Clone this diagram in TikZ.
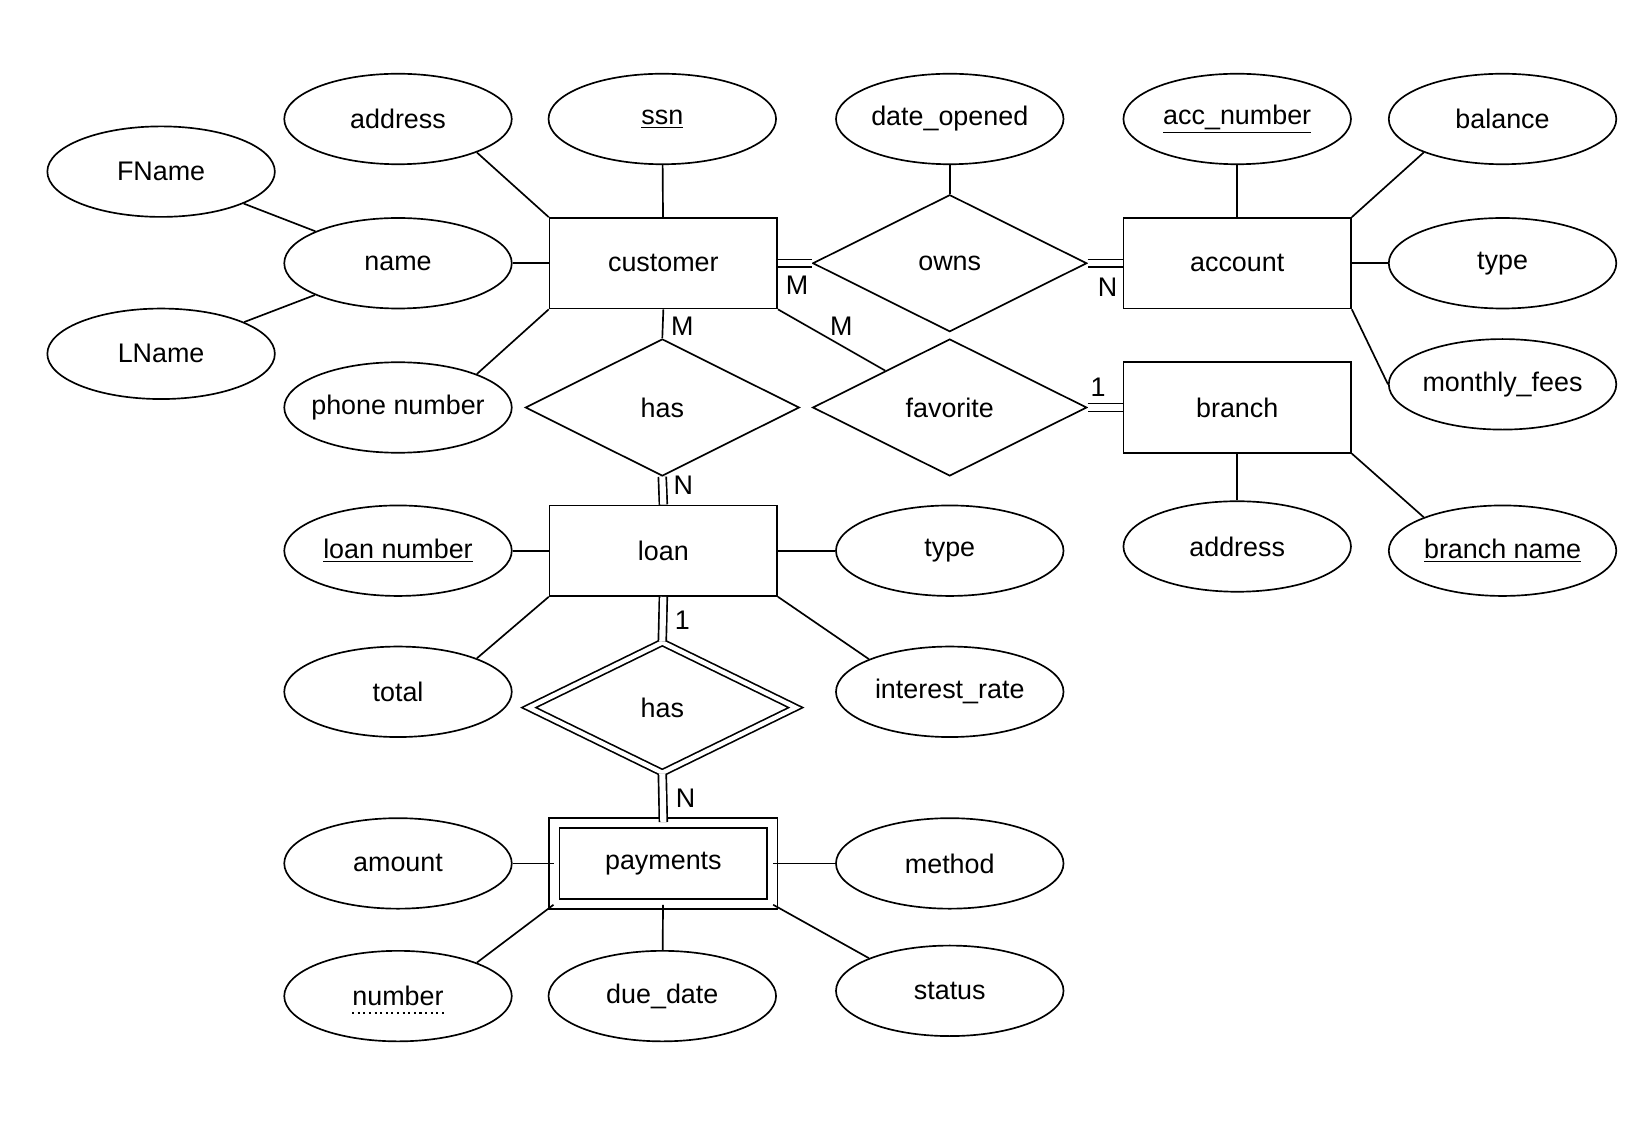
\documentclass[tikz,border=0pt]{standalone}
\usepackage{fontspec}
\setmainfont{Liberation Sans}
\usetikzlibrary{shapes.geometric}
\begin{document}
\begin{tikzpicture}[x=0.02106cm,y=-0.02106cm,line width=0.95pt,
  font=\fontsize{15.3}{18}\selectfont,
  attr/.style={draw,ellipse,minimum width=4.55cm,minimum height=1.81cm,inner sep=0},
  ent/.style={draw,rectangle,minimum width=4.55cm,minimum height=1.81cm,inner sep=0},
  rel/.style={draw,diamond,minimum width=5.48cm,minimum height=2.74cm,inner sep=0},
  dbl/.style={double,double distance=3.5pt},
  lab/.style={inner sep=1pt}]
\useasboundingbox (0,0) rectangle (1568,1089);
\node[attr] (addr) at (378,113) {address};
\node[attr] (ssn) at (629,113) {\underline{ssn}};
\node[attr] (dop) at (902,113) {date\_opened};
\node[attr] (accn) at (1175,113) {\underline{acc\_number}};
\node[attr] (bal) at (1427,113) {balance};
\node[attr] (fn) at (153,163) {FName};
\node[attr] (name) at (378,250) {name};
\node[attr] (ln) at (153,336) {LName};
\node[ent] (cust) at (630,250) {customer};
\node[rel] (owns) at (902,250) {owns};
\node[ent] (acct) at (1175,250) {account};
\node[attr] (atype) at (1427,250) {type};
\node[attr] (mf) at (1427,365) {monthly\_fees};
\node[attr,inner xsep=-6pt] (phone) at (378,387) {phone number};
\node[rel] (has1) at (629,387) {has};
\node[rel] (fav) at (902,387) {favorite};
\node[ent] (br) at (1175,387) {branch};
\node[attr] (baddr) at (1175,519) {address};
\node[attr] (bname) at (1427,523) {\underline{branch name}};
\node[attr] (lnum) at (378,523) {\underline{loan number}};
\node[ent] (loan) at (630,523) {loan};
\node[attr] (ltype) at (902,523) {type};
\node[attr] (tot) at (378,657) {total};
\node[rel,dbl,double distance=2.5pt,minimum width=5.35cm,minimum height=2.62cm] (has2) at (629,672) {has};
\node[attr] (ir) at (902,657) {interest\_rate};
\node[attr] (amt) at (378,820) {amount};
\node[ent,dbl,double distance=5pt,minimum width=4.36cm,minimum height=1.62cm] (pay) at (630,820) {payments};
\node[attr] (meth) at (902,820) {method};
\node[attr] (num) at (378,946) {number};
\node[attr] (due) at (629,946) {due\_date};
\node[attr] (stat) at (902,941) {status};
\draw[dotted,line width=1.2pt] ([yshift=-4pt]num.base) ++(-0.92cm,0) -- ++(1.84cm,0);
% edges
\draw (addr.-23) -- (cust.north west);
\draw (ssn) -- (cust);
\draw (name) -- (cust);
\draw (fn) -- (name);
\draw (ln) -- (name);
\draw (phone.23) -- (cust.south west);
\draw[dbl] (cust) -- (owns);
\draw[dbl] (owns) -- (acct);
\draw (dop) -- (owns);
\draw (accn) -- (acct);
\draw (bal.-157) -- (acct.north east);
\draw (atype) -- (acct);
\draw (mf.west) -- (acct.south east);
\draw (cust.south) -- (has1.north);
\draw (cust.south east) -- (fav);
\draw[dbl] (has1.south) -- (loan.north);
\draw[dbl] (fav.east) -- (br.west);
\draw (br) -- (baddr);
\draw (br.south east) -- (bname.157);
\draw (lnum) -- (loan);
\draw (ltype) -- (loan);
\draw (tot.23) -- (loan.south west);
\draw (ir.158) -- (loan.south east);
\draw[dbl] (loan.south) -- (has2.north);
\draw[dbl] (has2.south) -- (pay.north);
\draw (amt) -- (pay);
\draw (meth) -- (pay);
\draw (num.23) -- (pay.south west);
\draw (due) -- (pay);
\draw (stat.158) -- (pay.south east);
% cardinalities
\node[lab] (c1) at (757,271) {M};
\node[lab] (c2) at (1052,273) {N};
\node[lab] (c3) at (648,310) {M};
\node[lab] (c4) at (799,310) {M};
\node[lab] (c5) at (649,461) {N};
\node[lab] (c6) at (1043,368) {1};
\node[lab] (c7) at (648,589) {1};
\node[lab] (c8) at (651,758) {N};
\end{tikzpicture}
\end{document}
